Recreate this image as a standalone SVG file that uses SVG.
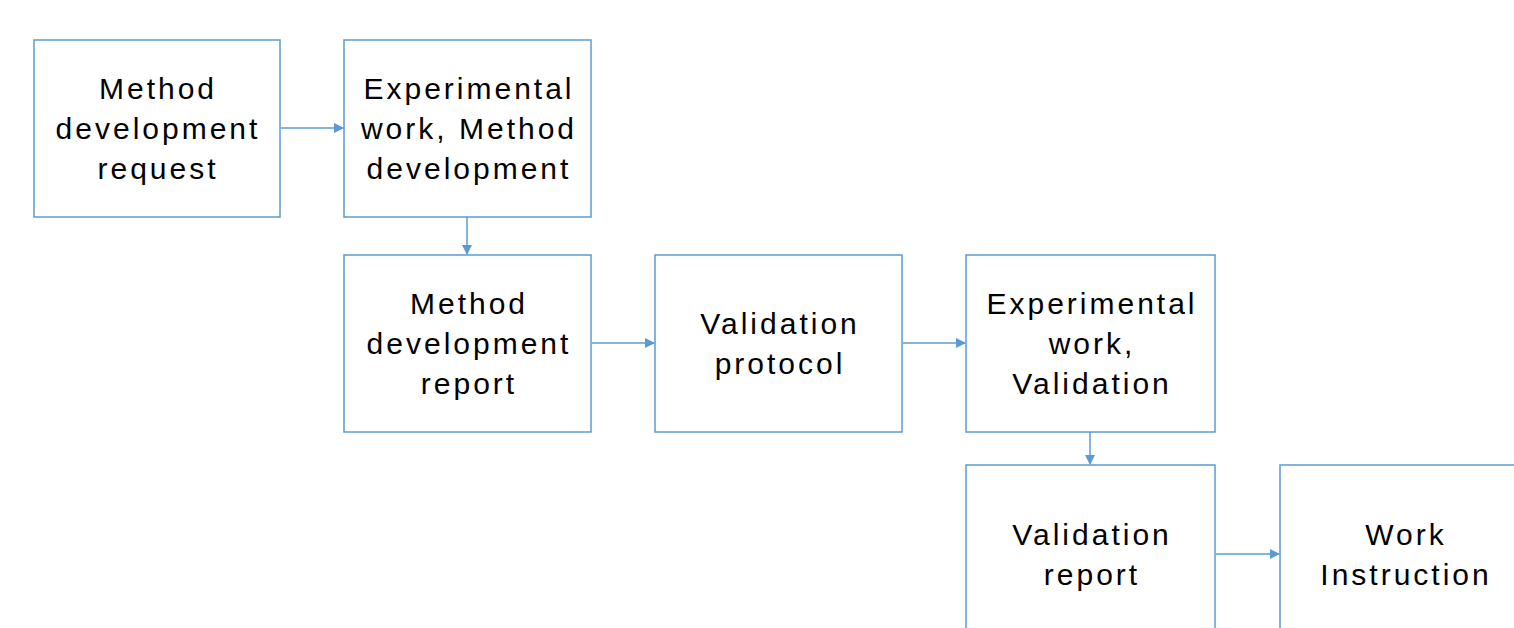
<svg xmlns="http://www.w3.org/2000/svg" width="1514" height="628" viewBox="0 0 1514 628">
<defs>
<style>
.box{fill:#fff;stroke:#5B9BD5;stroke-width:1.5}
.t{font-family:"Liberation Sans",Arial,sans-serif;font-size:30px;letter-spacing:3px;fill:#000;text-anchor:middle}
.c{stroke:#5B9BD5;stroke-width:1.5;fill:none}
</style>
<marker id="ah" markerWidth="10" markerHeight="10" refX="9" refY="5" orient="auto" markerUnits="userSpaceOnUse"><path d="M0,0 L10,5 L0,10 Z" fill="#5B9BD5"/></marker>
</defs>
<rect width="1514" height="628" fill="#fff"/>
<g id="connectors">
<line class="c" x1="281" y1="128" x2="343" y2="128" marker-end="url(#ah)"/>
<line class="c" x1="467" y1="217" x2="467" y2="254" marker-end="url(#ah)"/>
<line class="c" x1="592" y1="343" x2="654" y2="343" marker-end="url(#ah)"/>
<line class="c" x1="903" y1="343" x2="965" y2="343" marker-end="url(#ah)"/>
<line class="c" x1="1090" y1="432" x2="1090" y2="464" marker-end="url(#ah)"/>
<line class="c" x1="1216" y1="554" x2="1279" y2="554" marker-end="url(#ah)"/>
</g>
<g id="n1"><rect class="box" x="34" y="40" width="246" height="177"/>
<text class="t" x="158" y="99">Method</text><text class="t" x="158" y="139">development</text><text class="t" x="158" y="179">request</text></g>
<g id="n2"><rect class="box" x="344" y="40" width="247" height="177"/>
<text class="t" x="469" y="99">Experimental</text><text class="t" x="469" y="139">work, Method</text><text class="t" x="469" y="179">development</text></g>
<g id="n3"><rect class="box" x="344" y="255" width="247" height="177"/>
<text class="t" x="469" y="314">Method</text><text class="t" x="469" y="354">development</text><text class="t" x="469" y="394">report</text></g>
<g id="n4"><rect class="box" x="655" y="255" width="247" height="177"/>
<text class="t" x="780" y="334">Validation</text><text class="t" x="780" y="374">protocol</text></g>
<g id="n5"><rect class="box" x="966" y="255" width="249" height="177"/>
<text class="t" x="1092" y="314">Experimental</text><text class="t" x="1092" y="354">work,</text><text class="t" x="1092" y="394">Validation</text></g>
<g id="n6"><rect class="box" x="966" y="465" width="249" height="177"/>
<text class="t" x="1092" y="545">Validation</text><text class="t" x="1092" y="585">report</text></g>
<g id="n7"><rect class="box" x="1280" y="465" width="249" height="177"/>
<text class="t" x="1406" y="545">Work</text><text class="t" x="1406" y="585">Instruction</text></g>
</svg>
